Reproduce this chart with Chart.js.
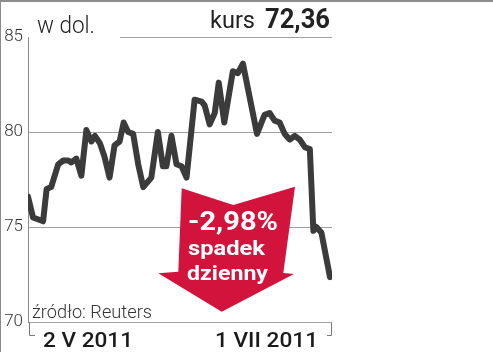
<!DOCTYPE html>
<html>
<head>
<meta charset="utf-8">
<script src="https://cdn.jsdelivr.net/npm/chart.js@4/dist/chart.umd.min.js"></script>
<style>
  html, body { margin: 0; padding: 0; background: #fff; }
  #wrap { width: 493px; height: 352px; }
</style>
</head>
<body>
<div id="wrap"><canvas id="chart" width="493" height="352"></canvas></div>
<script>
// days since 2 V 2011
var days = [0, 1, 3, 3.7, 4.6, 6, 7, 8, 8.6, 9.6, 10.6, 11.6, 12.6, 13.3, 14.3, 15.2, 16.2, 17.2, 18.2, 19,
    19.9, 20.9, 21.9, 22.9, 24.5, 25.8, 26.8, 27.5, 28.5, 29.5, 30.5, 31.5, 33.1, 34.5, 35.1, 36.1, 37.1, 37.9,
    39, 40.7, 41.7, 42.7, 45.5, 47, 48, 49, 50, 51, 52, 53, 54, 55, 56, 56.7, 57.3, 58.3, 60];
var prices = [76.6, 75.5, 75.3, 77.0, 77.1, 78.3, 78.5, 78.5, 78.4, 78.6, 77.7, 80.1, 79.5, 79.8, 79.4, 78.7, 77.6, 79.3, 79.5, 80.5,
    80.0, 79.9, 78.3, 77.1, 77.6, 80.0, 78.2, 78.2, 79.8, 78.3, 78.2, 77.6, 81.7, 81.6, 81.4, 80.4, 81.0, 82.6,
    80.5, 83.2, 83.1, 83.6, 79.9, 80.9, 81.0, 80.6, 80.5, 79.9, 79.6, 79.8, 79.6, 79.2, 79.1, 74.8, 75.0, 74.7, 72.36];
var yTicks = [70, 75, 80, 85];
var dateLabels = ['2 V 2011', '1 VII 2011'];
var arrowLines = ['-2,98%', 'spadek', 'dzienny'];

var points = days.map(function (d, i) { return { x: d, y: prices[i] }; });

function fitText(ctx, text, x, y, width) {
    var w = ctx.measureText(text).width;
    ctx.save();
    ctx.translate(x, y);
    ctx.scale(width / w, 1);
    ctx.fillText(text, 0, 0);
    ctx.restore();
}

var decor = {
    id: 'decor',
    afterDraw: function (chart) {
        var ctx = chart.ctx;
        var area = chart.chartArea;
        var yScale = chart.scales.y;
        var y85 = Math.round(yScale.getPixelForValue(85)) + 0.5;
        var base = Math.round(yScale.getPixelForValue(70)) + 0.5;
        ctx.save();

        // frame edges
        ctx.fillStyle = '#8c8c8c';
        ctx.fillRect(0, 0, 493, 2);
        ctx.fillRect(0, 0, 1, 352);

        // top line behind header
        ctx.strokeStyle = '#a0a0a0';
        ctx.lineWidth = 1;
        ctx.beginPath();
        ctx.moveTo(120, y85);
        ctx.lineTo(area.right, y85);
        ctx.stroke();

        // bottom bracket
        ctx.strokeStyle = '#777';
        ctx.beginPath();
        ctx.moveTo(area.left + 1.5, base);
        ctx.lineTo(area.left + 1.5, 335.5);
        ctx.lineTo(area.left + 7, 335.5);
        ctx.moveTo(area.right - 0.5, base);
        ctx.lineTo(area.right - 0.5, 335.5);
        ctx.lineTo(area.right - 5, 335.5);
        ctx.stroke();

        // header
        ctx.fillStyle = '#222';
        ctx.textBaseline = 'alphabetic';
        ctx.textAlign = 'left';
        ctx.font = '300 23px Roboto';
        fitText(ctx, 'w dol.', 37, 33, 58);
        ctx.font = '400 24px Roboto';
        fitText(ctx, 'kurs', 210, 28, 45);
        ctx.font = '700 28px Roboto';
        fitText(ctx, '72,36', 265, 28, 65);

        // source and dates
        ctx.fillStyle = '#333';
        ctx.font = '300 18px Roboto';
        fitText(ctx, 'źródło: Reuters', 32, 318, 120);
        ctx.fillStyle = '#1a1a1a';
        ctx.font = '500 21px Roboto';
        fitText(ctx, dateLabels[0], 43, 347, 90);
        fitText(ctx, dateLabels[1], 215, 347, 103);

        // red arrow
        ctx.fillStyle = '#d2143c';
        ctx.beginPath();
        ctx.moveTo(181.7, 188.3);
        ctx.lineTo(233.3, 205);
        ctx.lineTo(295, 186.7);
        ctx.lineTo(283.3, 273);
        ctx.lineTo(294, 274);
        ctx.lineTo(221.7, 311.7);
        ctx.lineTo(158.3, 273.3);
        ctx.lineTo(178.3, 271.7);
        ctx.closePath();
        ctx.fill();

        ctx.fillStyle = '#fff';
        ctx.font = '700 25px Roboto';
        fitText(ctx, arrowLines[0], 188, 230, 90);
        ctx.font = '700 21px Roboto';
        fitText(ctx, arrowLines[1], 188, 255, 77);
        fitText(ctx, arrowLines[2], 187, 280, 81);

        ctx.restore();
    }
};

new Chart(document.getElementById('chart'), {
    type: 'line',
    data: {
        datasets: [{
            data: points,
            borderColor: '#3b3b3b',
            borderWidth: 6,
            borderJoinStyle: 'round',
            borderCapStyle: 'round',
            pointRadius: 0,
            tension: 0,
            fill: false
        }]
    },
    options: {
        responsive: false,
        animation: false,
        layout: { padding: { top: 37, right: 161, bottom: 30, left: 0 } },
        plugins: { legend: { display: false }, tooltip: { enabled: false } },
        scales: {
            x: {
                type: 'linear',
                min: 0,
                max: 60.4,
                display: false
            },
            y: {
                min: 70,
                max: 85,
                afterFit: function (scale) { scale.width = 28; },
                afterBuildTicks: function (scale) {
                    scale.ticks = yTicks.map(function (v) { return { value: v }; });
                },
                grid: {
                    drawTicks: false,
                    color: function (c) { return c.tick && c.tick.value === 85 ? 'rgba(0,0,0,0)' : '#a0a0a0'; },
                    lineWidth: 1
                },
                border: { display: true, color: '#8c8c8c', width: 1 },
                ticks: {
                    padding: 5,
                    color: '#333',
                    font: { family: 'Roboto', size: 17, weight: '300' }
                }
            }
        }
    },
    plugins: [decor]
});
</script>
</body>
</html>
